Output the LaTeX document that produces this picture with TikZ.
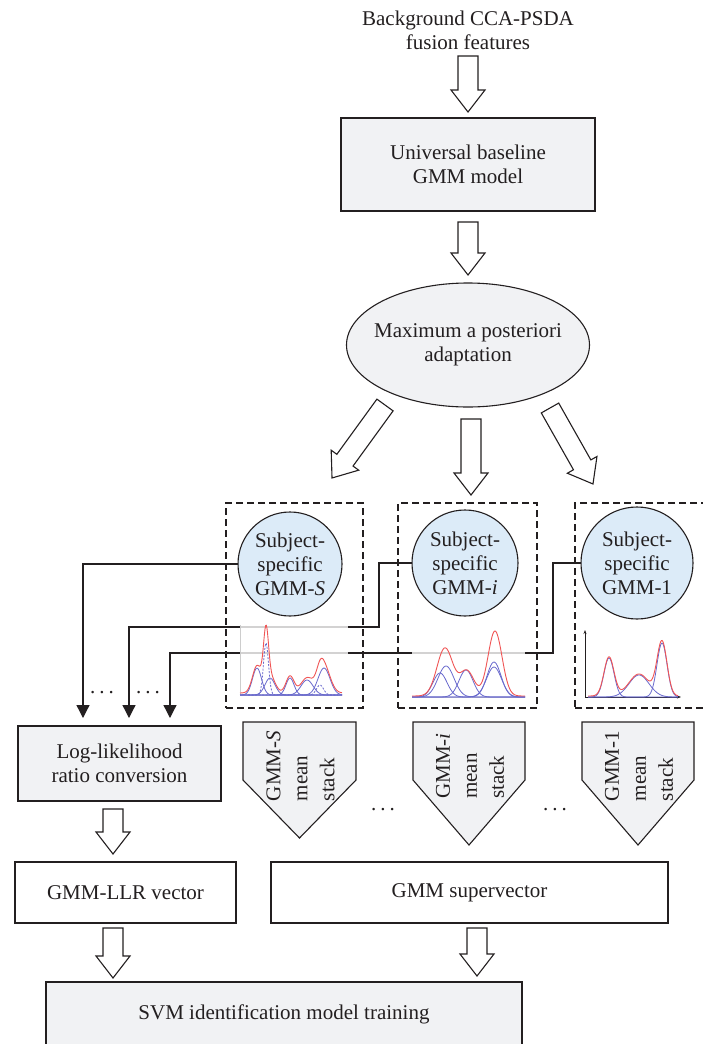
\documentclass[tikz,border=0pt]{standalone}
\usepackage{fontspec}
\setmainfont{Liberation Serif}
\usetikzlibrary{arrows.meta,shapes,calc}
\definecolor{ink}{RGB}{35,31,32}
\definecolor{node_gray}{RGB}{241,242,244}
\definecolor{node_blue}{RGB}{220,235,248}
\definecolor{curve_red}{RGB}{240,85,85}
\definecolor{curve_blue}{RGB}{105,105,205}
\definecolor{axis_gray}{RGB}{205,205,205}
% hollow block arrow from #1 to #2
\newcommand\hollowarrow[2]{%
  \path[hollow] let \p1=#1, \p2=#2,
    \n1={atan2(\y2-\y1,\x2-\x1)}, \n2={veclen(\x2-\x1,\y2-\y1)} in
    [shift={(\p1)}, rotate=\n1]
    (0pt,10pt) -- ({\n2*1pt-22pt},10pt) -- ({\n2*1pt-22pt},17pt) -- ({\n2*1pt},0pt)
    -- ({\n2*1pt-22pt},-17pt) -- ({\n2*1pt-22pt},-10pt) -- (0pt,-10pt) -- cycle;}

\begin{document}
\begin{tikzpicture}[x=1pt,y=-1pt,line join=miter,
    declare function={gs(\u,\m,\s)=exp(-0.5*((\u-\m)/\s)^2);},
    font=\fontsize{21}{24}\selectfont, text=ink]
    \tikzstyle{stepblock}=[draw=ink, line width=1.1pt, fill=node_gray, inner sep=0pt, outer sep=0pt, align=center]
    \tikzstyle{vecbox}=[stepblock, fill=white]
    \tikzstyle{subject}=[draw=ink, line width=1.1pt, circle, fill=node_blue, inner sep=0pt, outer sep=0pt, align=center]
    \tikzstyle{gmmgroup}=[draw=ink, line width=1.1pt, dash pattern=on 7pt off 4pt, inner sep=0pt, outer sep=0pt]
    \tikzstyle{llrlink}=[draw=ink, line width=1.3pt, -{Triangle[length=13pt,width=13pt]}]
    \tikzstyle{hollow}=[draw=ink, line width=1.1pt, fill=white]
    \tikzstyle{stackbox}=[draw=ink, line width=1.1pt, fill=node_gray]
    \tikzstyle{stacktext}=[rotate=90, align=left, font=\fontsize{21}{27}\selectfont, inner sep=0pt]
    \tikzstyle{mixred}=[draw=curve_red, line width=0.9pt]
    \tikzstyle{mixblue}=[draw=curve_blue, line width=0.8pt]
    \useasboundingbox (0,0) rectangle (703,1044);

    \node[align=center]                                         (feat) at (468,30)    {Background CCA-PSDA\\fusion features};
    \node[stepblock, minimum width=254, minimum height=93]      (ubm)  at (468,164.5) {Universal baseline\\GMM model};
    \node[stepblock, ellipse, inner xsep=-10pt, minimum width=243, minimum height=124] (map) at (468,345) {Maximum a posteriori\\adaptation};

    \node[gmmgroup, minimum width=137, minimum height=205] (boxS) at (294.5,605.5) {};
    \node[gmmgroup, minimum width=139, minimum height=205] (boxI) at (467.5,605.5) {};
    \node[gmmgroup, minimum width=140, minimum height=205] (boxO) at (645,605.5)   {};

    \node[subject, minimum size=104] (cS) at (290,564) {Subject-\\specific\\GMM-\textit{S}};
    \node[subject, minimum size=106] (cI) at (465,563) {Subject-\\specific\\GMM-\textit{i}};
    \node[subject, minimum size=112] (cO) at (637,563) {Subject-\\specific\\GMM-1};

    \node[stepblock, minimum width=203, minimum height=75] (llr)  at (119.5,763.5) {Log-likelihood\\ratio conversion};
    \node[vecbox, minimum width=221, minimum height=61]    (llrv) at (125.5,892.5) {GMM-LLR vector};
    \node[vecbox, minimum width=397, minimum height=61]    (sv)   at (469.5,892.5) {GMM supervector};
    \node[stepblock, minimum width=476, minimum height=64] (svm)  at (284,1014)    {SVM identification model training};

    \coordinate (tS) at (83,718);
    \coordinate (tI) at (129,718);
    \coordinate (tO) at (170,718);

    % block arrows
    \hollowarrow{([shift={(0,-62)}]ubm.north)}{([shift={(0,-6)}]ubm.north)}
    \hollowarrow{([shift={(0,11)}]ubm.south)}{([shift={(0,-8)}]map.north)}
    \hollowarrow{([shift={(-83,60)}]map.center)}{([shift={(37.5,-25)}]boxS.north)}
    \hollowarrow{([shift={(3,12)}]map.south)}{([shift={(3.5,-8)}]boxI.north)}
    \hollowarrow{([shift={(82,63)}]map.center)}{([shift={(-52,-19)}]boxO.north)}
    \hollowarrow{([shift={(-6.5,8)}]llr.south)}{([shift={(-12.5,-8)}]llrv.north)}
    \hollowarrow{([shift={(-12.5,5)}]llrv.south)}{([shift={(-171,-4)}]svm.north)}
    \hollowarrow{([shift={(7.5,5)}]sv.south)}{([shift={(193,-6)}]svm.north)}

    % likelihood links
    \draw[llrlink] (cS.west) -| (tS);
    \draw[llrlink] (cI.west) -- ++(-33,0) -- ++(0,64) -| (tI);
    \draw[llrlink] (cO.west) -- ++(-28,0) -- ++(0,90) -| (tO);
    \node (dotsL) at (102,693) {.\hspace{4pt}.\hspace{4pt}.};
    \node (dotsR) at (148,693) {.\hspace{4pt}.\hspace{4pt}.};

    % mixture plots
    \fill[white, fill opacity=0.8] (240,620) rectangle (348,698);
    \draw[axis_gray, line width=0.8pt] (240,625) -- (240,695) -- (342,695);
    \foreach \ha/\hc/\hw in {27/257/4.5, 17/270/5, 17/290/4, 15/307/6, 27/324/6}
      \draw[mixblue] plot[domain=240:342, samples=100] (\x, {695-\ha*gs(\x,\hc,\hw)});
    \foreach \ha/\hc/\hw in {52/266/2.5, 10/320/3.5}
      \draw[mixblue, dash pattern=on 2pt off 1.5pt] plot[domain=248:338, samples=100] (\x, {695-\ha*gs(\x,\hc,\hw)});
    \draw[mixred] plot[domain=240:342, samples=160] (\x, {693-27*gs(\x,257,4.5)-17*gs(\x,270,5)-17*gs(\x,290,4)-15*gs(\x,307,6)-27*gs(\x,324,6)-52*gs(\x,266,2.5)-10*gs(\x,320,3.5)});

    \fill[white, fill opacity=0.8] (412,628) rectangle (525,698);
    \draw[axis_gray, line width=0.8pt] (412,697) -- (525,697);
    \foreach \ha/\hc/\hw in {24/440/7, 31/446/8, 27/466/7, 35/494/7, 30/494/7.5}
      \draw[mixblue] plot[domain=412:525, samples=100] (\x, {697-\ha*gs(\x,\hc,\hw)});
    \draw[mixred] plot[domain=412:525, samples=120] (\x, {696-48*gs(\x,445,8)-25*gs(\x,467,7)-65*gs(\x,495,7)});

    \draw[ink, line width=0.6pt, -{Stealth[length=4pt,width=3pt]}] (585,697) -- (585,630);
    \draw[ink, line width=0.6pt, -{Stealth[length=4pt,width=3pt]}] (585,697) -- (681,697);
    \foreach \ha/\hc/\hw in {39/609/5, 22/639/10, 54/662/5}
      \draw[mixblue] plot[domain=588:678, samples=100] (\x, {697-\ha*gs(\x,\hc,\hw)});
    \draw[mixred] plot[domain=588:678, samples=120] (\x, {696-39*gs(\x,609,5)-22*gs(\x,639,10)-54*gs(\x,662,5)});

    % mean stacks
    \foreach \n/\xl/\xr/\yt/\lab in {S/243/356/838/\textit{S}, I/413/525/845/\textit{i}, O/582/694/845/1} {
      \draw[stackbox] (\xl,722) -- (\xr,722) -- (\xr,780) -- ({(\xl+\xr)/2},\yt) -- (\xl,780) -- cycle;
      \node[stacktext] (st\n) at ({(\xl+\xr)/2+1},766) {GMM-\lab\\mean\\stack};
    }
    \node (dotsA) at (383,810) {.\hspace{4pt}.\hspace{4pt}.};
    \node (dotsB) at (555,810) {.\hspace{4pt}.\hspace{4pt}.};
\end{tikzpicture}
\end{document}
